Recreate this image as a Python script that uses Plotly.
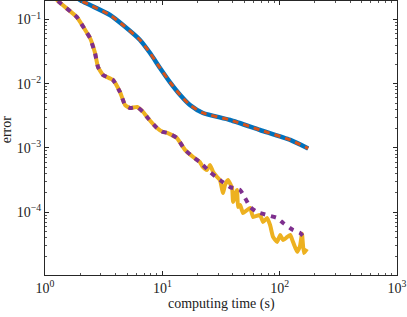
import plotly.graph_objects as go

# Series A (blue solid + orange dashed overlay)
time_a = [1.75, 1.99, 2.42, 3.58, 4.62, 6.45, 7.86, 9.55, 11.6, 14.2, 17.2, 22.2, 37.8, 68, 123, 175]
err_a = [0.24, 0.201, 0.168, 0.1175, 0.082, 0.048, 0.030, 0.0176, 0.0106, 0.00667, 0.00466, 0.0035,
         0.00272, 0.0019, 0.00133, 0.00098]

# Series B (yellow solid)
time_b = [1.15, 1.265, 1.87, 2.28, 2.42, 2.67, 2.83, 3.12, 3.8, 4.36, 4.81, 5.3, 6.09, 6.85, 7.55,
          9.01, 10.1, 11.0, 13.3, 15.6, 18.3, 20.9, 22.2, 24.0, 25.5, 27.1, 29.3, 31.0, 32.9,
          34.2, 36.3, 39.3, 40.1, 43.3, 44.2, 46, 48.7, 56, 59.3, 68.1, 72.2, 78.1, 82.8, 87.8,
          95.1, 101, 107, 116, 123, 130, 141, 149, 155, 161, 171]
err_b = [0.27, 0.201, 0.109, 0.0617, 0.0515, 0.030, 0.0182, 0.0137, 0.0114, 0.0074, 0.00466, 0.00417,
         0.00434, 0.00363, 0.0029, 0.00204, 0.00177, 0.00172, 0.00143, 0.00093, 0.00072,
         0.0006, 0.0005, 0.000453, 0.000542, 0.000421, 0.000352, 0.000316, 0.000198, 0.000264,
         0.000316, 0.000237, 0.000144, 0.000221, 0.00012, 0.000129, 0.0000968, 0.000116,
         0.000084, 0.00009, 0.00007, 0.000081, 0.000063, 0.000041, 0.0000342, 0.000044,
         0.0000367, 0.000041, 0.000044, 0.0000342, 0.000024, 0.0000295, 0.000046, 0.000023,
         0.0000266]

# Series C (purple dashed)
time_c = [1.15, 1.265, 1.87, 2.28, 2.42, 2.67, 2.83, 3.12, 3.8, 4.36, 4.81, 5.3, 6.09, 6.85, 7.55,
          9.01, 10.1, 11.0, 13.3, 15.6, 18.3, 20.9, 25.5, 31, 37.8, 46, 50.7, 56, 64.2, 78.1,
          95.1, 107, 130, 149, 170]
err_c = [0.27, 0.201, 0.109, 0.0617, 0.0515, 0.030, 0.0182, 0.0137, 0.0114, 0.0074, 0.00466, 0.00417,
         0.00434, 0.00363, 0.0029, 0.00204, 0.00177, 0.00172, 0.00143, 0.00093, 0.00072,
         0.0006, 0.000421, 0.000316, 0.000245, 0.000221, 0.000166, 0.00012, 0.0001, 0.00009,
         0.000081, 0.0000676, 0.0000525, 0.0000473, 0.0000367]

x_tickvals = [1, 10, 100, 1000]
x_ticktext = ["10<sup>0</sup>", "10<sup>1</sup>", "10<sup>2</sup>", "10<sup>3</sup>"]
y_tickvals = [1e-4, 1e-3, 1e-2, 1e-1]
y_ticktext = ["10<sup>−4</sup>", "10<sup>−3</sup>", "10<sup>−2</sup>", "10<sup>−1</sup>"]

x_title = "computing time (s)"
y_title = "error"

FONT = "Liberation Serif"
TXT = "#222222"

fig = go.Figure()
fig.add_trace(go.Scatter(x=time_a, y=err_a, mode="lines",
                         line=dict(color="#0072BD", width=4.5, shape="spline", smoothing=0.6)))
fig.add_trace(go.Scatter(x=time_a, y=err_a, mode="lines",
                         line=dict(color="#D95319", width=3, dash="6px,5px", shape="spline", smoothing=0.6)))
fig.add_trace(go.Scatter(x=time_b, y=err_b, mode="lines",
                         line=dict(color="#EDB120", width=4, shape="spline", smoothing=0.4)))
fig.add_trace(go.Scatter(x=time_c, y=err_c, mode="lines",
                         line=dict(color="#7E2F8E", width=4, dash="5px,6px", shape="spline", smoothing=0.4)))

axis_common = dict(
    type="log", showgrid=False, zeroline=False, automargin=False,
    showline=True, linecolor="#262626", linewidth=1, mirror="allticks",
    ticks="inside", ticklen=4, tickcolor="#262626", tickwidth=1,
    minor=dict(ticks="inside", dtick="D1", ticklen=2, tickwidth=0.7, tickcolor="#555555", showgrid=False),
    tickfont=dict(family=FONT, size=14, color=TXT),
)

fig.update_xaxes(range=[0, 3], tickmode="array", tickvals=x_tickvals, ticktext=x_ticktext, **axis_common)
fig.update_yaxes(range=[-4.98, -0.712], tickmode="array", tickvals=y_tickvals, ticktext=y_ticktext,
                 **axis_common)

fig.add_annotation(text=x_title, xref="paper", yref="paper", x=0.5, y=0, yshift=-19,
                   xanchor="center", yanchor="top", showarrow=False,
                   font=dict(family=FONT, size=14, color=TXT))
fig.add_annotation(text=y_title, xref="paper", yref="paper", x=0, y=0.53, xshift=-48,
                   xanchor="left", yanchor="middle", textangle=-90, showarrow=False,
                   font=dict(family=FONT, size=14, color=TXT))

fig.update_layout(
    width=407, height=317,
    margin=dict(l=45, r=10, t=1, b=42),
    plot_bgcolor="white", paper_bgcolor="white",
    showlegend=False,
    font=dict(family=FONT),
)

fig.write_html("out.html", config={"displayModeBar": False},
               post_script="document.body.style.margin='0px';")
